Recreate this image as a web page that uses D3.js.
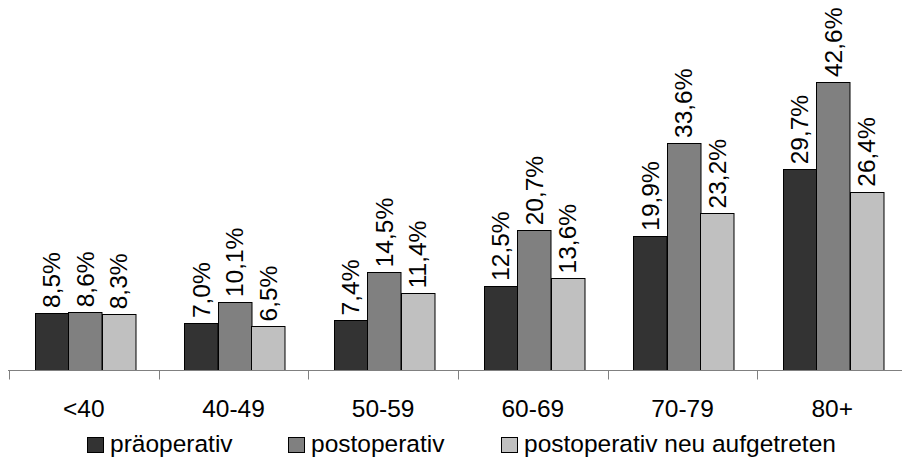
<!DOCTYPE html>
<html><head><meta charset="utf-8">
<script src="https://cdn.jsdelivr.net/npm/d3@7"></script>
<style>html,body{margin:0;padding:0;background:#fff;}svg{display:block;font-family:"Liberation Sans",Arial,sans-serif;}</style>
</head><body>
<svg id="c" width="902" height="462"></svg>
<script>
const categories = ["<40","40-49","50-59","60-69","70-79","80+"];
const seriesNames = ["präoperativ","postoperativ","postoperativ neu aufgetreten"];
const praeoperativ = [8.5, 7.0, 7.4, 12.5, 19.9, 29.7];
const postoperativ = [8.6, 10.1, 14.5, 20.7, 33.6, 42.6];
const postoperativNeu = [8.3, 6.5, 11.4, 13.6, 23.2, 26.4];
const seriesValues = [praeoperativ, postoperativ, postoperativNeu];
const colors = ["#333333","#808080","#c0c0c0"];

const svg = d3.select("#c");
const baseY = 370.5;
const x0 = d3.scaleBand().domain(categories).range([10, 908]).paddingInner(0).paddingOuter(0);
const x1 = d3.scaleBand().domain(d3.range(3)).range([0, x0.bandwidth()]).paddingInner(0).paddingOuter(0.734);
const y = d3.scaleLinear().domain([0, 50]).range([baseY, baseY - 338.6]);
const fmt = v => d3.format(".1f")(v).replace(".", ",") + "%";

const data = [];
categories.forEach((c, i) => seriesValues.forEach((s, j) => data.push({c, j, v: s[i]})));

svg.selectAll("rect.bar").data(data).enter().append("rect")
  .attr("class","bar")
  .attr("x", d => Math.round(x0(d.c) + x1(d.j)) + 0.5)
  .attr("y", d => Math.round(y(d.v)) + 0.5)
  .attr("width", x1.bandwidth())
  .attr("height", d => baseY - Math.round(y(d.v)) - 0.5)
  .attr("fill", d => colors[d.j])
  .attr("stroke", "#000").attr("stroke-width", 1);

svg.selectAll("text.lbl").data(data).enter().append("text")
  .attr("class","lbl")
  .attr("transform", d => `translate(${x0(d.c) + x1(d.j) + x1.bandwidth()/2},${y(d.v) - 5}) rotate(-90)`)
  .attr("dy", "0.36em")
  .attr("font-size", "24.5px").attr("fill", "#000")
  .text(d => fmt(d.v));

// axis line
svg.append("line").attr("x1", 8).attr("x2", 902).attr("y1", baseY).attr("y2", baseY)
  .attr("stroke", "#808080").attr("stroke-width", 1);
// boundary ticks
svg.selectAll("line.tick").data(categories).enter().append("line")
  .attr("class","tick")
  .attr("x1", d => Math.round(x0(d)) - 0.5).attr("x2", d => Math.round(x0(d)) - 0.5)
  .attr("y1", baseY).attr("y2", baseY + 9)
  .attr("stroke", "#808080").attr("stroke-width", 1);
// category labels
svg.selectAll("text.cat").data(categories).enter().append("text")
  .attr("class","cat")
  .attr("x", d => x0(d) + x0.bandwidth()/2 - 1)
  .attr("y", 417)
  .attr("text-anchor","middle")
  .attr("font-size","24.5px").attr("fill","#000")
  .text(d => d);

// legend
const legX = [87, 288, 501];
const leg = svg.selectAll("g.leg").data(seriesNames).enter().append("g")
  .attr("class","leg")
  .attr("transform", (d, i) => `translate(${legX[i]},0)`);
leg.append("rect").attr("x", 0.5).attr("y", 437.5).attr("width", 16).attr("height", 15)
  .attr("fill", (d, i) => colors[i]).attr("stroke", "#000");
leg.append("text").attr("x", 23).attr("y", 452)
  .attr("font-size","24.5px").attr("fill","#000")
  .text(d => d);
</script>
</body></html>
